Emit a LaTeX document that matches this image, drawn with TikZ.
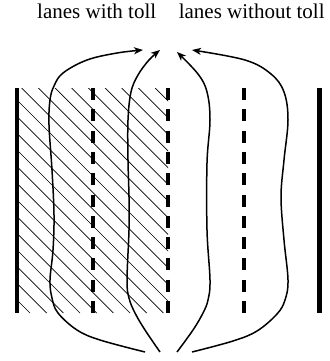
\documentclass[tikz,border=0pt]{standalone}
\usepackage{fontspec}
\setmainfont{Liberation Serif}
\usetikzlibrary{arrows.meta}
\begin{document}
\begin{tikzpicture}[x=1pt,y=-1pt,
  solidline/.style={line width=4.5pt,line cap=butt},
  dashline/.style={line width=4.5pt,line cap=butt,dash pattern=on 12pt off 9.3pt},
  hatchline/.style={line width=0.7pt},
  route/.style={line width=1.5pt,-{Stealth[length=9pt,width=7pt,inset=2.5pt]}},
  lbl/.style={anchor=base,inner sep=0pt,font=\fontsize{21}{25}\selectfont}]
\useasboundingbox (0,0) rectangle (329,361);
% labels
\node[lbl] (toll) at (96.7,18.3) {lanes with toll};
\node[lbl] (free) at (251.7,18.3) {lanes without toll};
% hatching
\begin{scope}
\clip (17,88) rectangle (168,313);
\foreach \k in {0,...,21}{
  \pgfmathsetmacro{\c}{-283+16.667*\k}
  \draw[hatchline] (\c+88,88) -- (\c+313,313);
}
\end{scope}
% lane markings
\draw[solidline] (17,88) -- (17,313);
\draw[solidline] (319.5,88) -- (319.5,313);
\draw[dashline] (93,88) -- (93,313);
\draw[dashline] (168,88) -- (168,313);
\draw[dashline] (244,88) -- (244,313);
% routes
\coordinate (s1) at (145,352); \coordinate (t1) at (143,50);
\coordinate (s2) at (160,352); \coordinate (t2) at (160,50);
\coordinate (s3) at (177,352); \coordinate (t3) at (177,52);
\coordinate (s4) at (192,352); \coordinate (t4) at (192,50);
\draw[route] plot[smooth,tension=0.6] coordinates {(s1) (100,340) (77,330) (58,313) (52,298) (50,280) (53,250) (54,215) (52,170) (49,125) (50,100) (54,86) (63,73) (87,60) (117,53) (t1)};
\draw[route] plot[smooth,tension=0.6] coordinates {(s2) (145,330) (135,313) (129,298) (127,280) (129,230) (129,197) (128,160) (128,120) (131,92) (138,75) (149,60) (t2)};
\draw[route] plot[smooth,tension=0.6] coordinates {(s3) (193,330) (203,313) (208,300) (210,280) (207,230) (207,163) (210,120) (207,92) (198,74) (t3)};
\draw[route] plot[smooth,tension=0.6] coordinates {(s4) (233,341) (257,331) (277,314) (285,300) (288,280) (284,240) (281,197) (284,160) (288,120) (284,92) (271,74) (245,60) (t4)};
\end{tikzpicture}
\end{document}
